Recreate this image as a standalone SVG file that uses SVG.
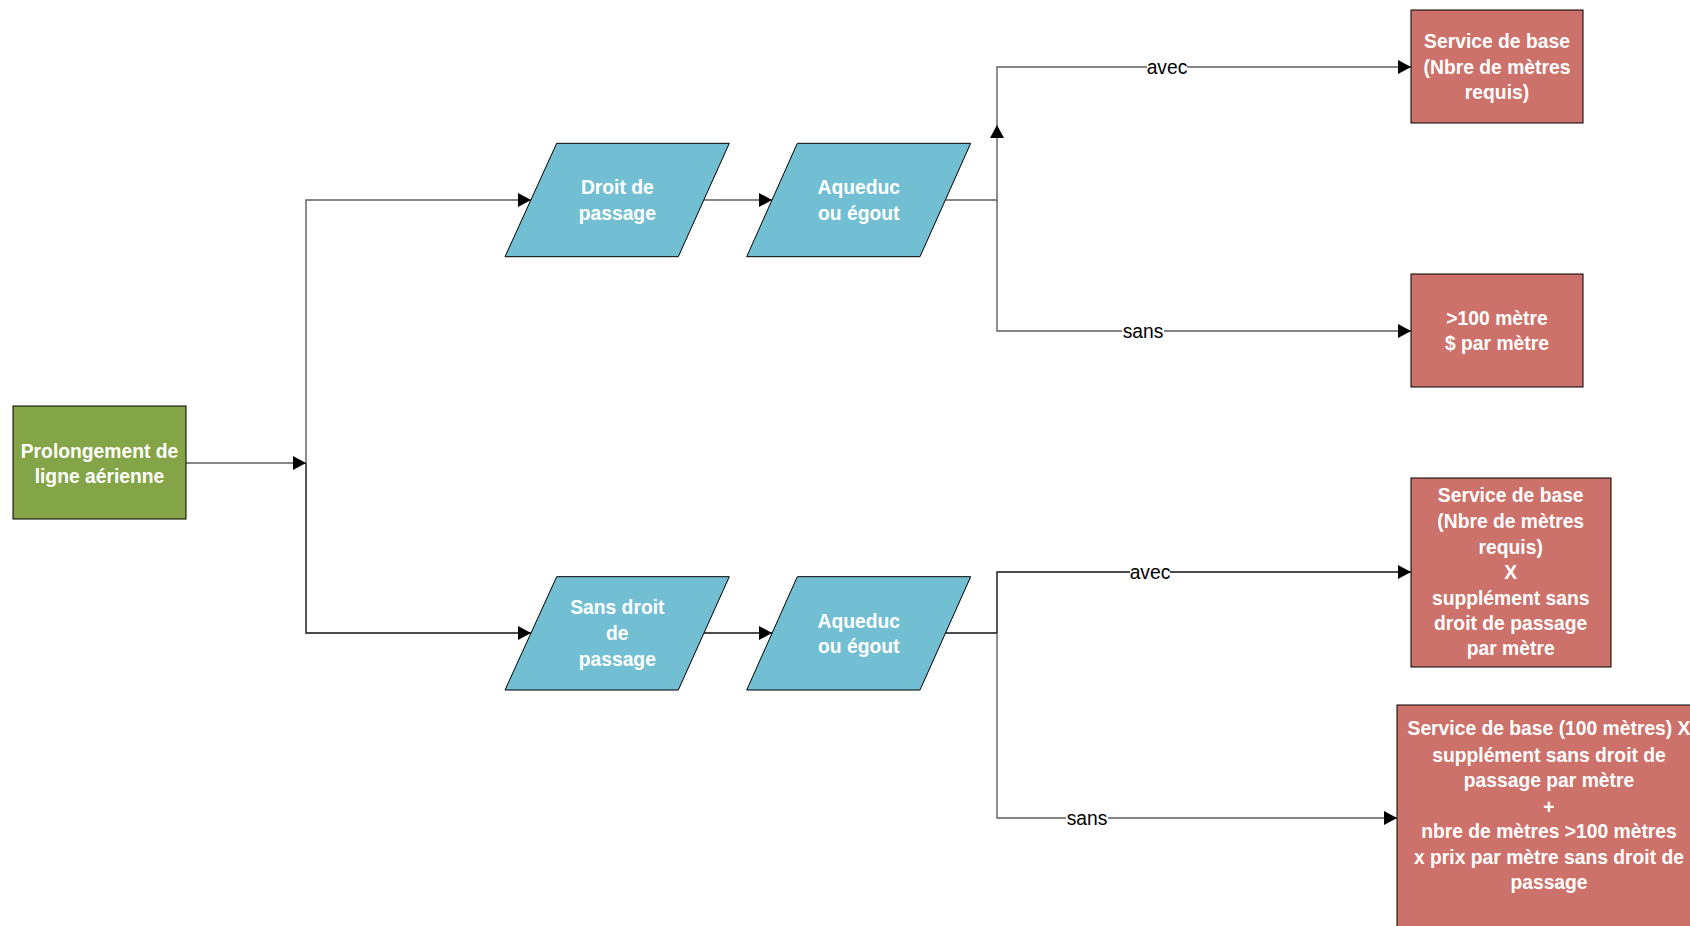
<svg xmlns="http://www.w3.org/2000/svg" width="1690" height="926" viewBox="0 0 1690 926">
<style>
.t{font-family:"Liberation Sans",Arial,sans-serif;font-size:19.3px;font-weight:bold;fill:#ffffff;text-anchor:middle}
.l{font-family:"Liberation Sans",Arial,sans-serif;font-size:19.3px;fill:#000000;text-anchor:middle}
.g{fill:#84a547;stroke:#000;stroke-width:1}
.b{fill:#72bfd3;stroke:#000;stroke-width:1}
.r{fill:#cd726b;stroke:#000;stroke-width:1}
.c{fill:none;stroke:#5e5e5e;stroke-width:1.4}
.k{fill:none;stroke:#111;stroke-width:1.4}
.lb{fill:#fff}
</style>
<defs>
<marker id="a" viewBox="0 0 13 14" refX="13" refY="7" markerWidth="13" markerHeight="14" markerUnits="userSpaceOnUse" orient="auto">
<path d="M0,0 L13,7 L0,14 Z" fill="#000"/>
</marker>
</defs>
<rect width="1690" height="926" fill="#fff"/>
<g id="connectors">
<path class="c" d="M186,463 H306" marker-end="url(#a)"/>
<path class="c" d="M306,463 V200 H531" marker-end="url(#a)"/>
<path class="k" d="M306,463 V633 H531" marker-end="url(#a)"/>
<path class="c" d="M704,200 H772" marker-end="url(#a)"/>
<path class="k" d="M704,633 H772" marker-end="url(#a)"/>
<path class="c" d="M945,200 H997 V125" marker-end="url(#a)"/>
<path class="c" d="M997,126 V67 H1411" marker-end="url(#a)"/>
<path class="c" d="M997,200 V331 H1411" marker-end="url(#a)"/>
<path class="k" d="M945,633 H997"/>
<path class="k" d="M997,633 V572 H1411" marker-end="url(#a)"/>
<path class="c" d="M997,633 V818 H1397" marker-end="url(#a)"/>
<rect class="lb" x="1147" y="56" width="40" height="22"/>
<text class="l" x="1167" y="73.5">avec</text>
<rect class="lb" x="1122" y="320" width="42" height="22"/>
<text class="l" x="1143" y="338">sans</text>
<rect class="lb" x="1130" y="561" width="40" height="22"/>
<text class="l" x="1150" y="579">avec</text>
<rect class="lb" x="1066" y="807" width="42" height="22"/>
<text class="l" x="1087" y="825">sans</text>
</g>
<g id="n-prolongement">
<rect class="g" x="13" y="406" width="173" height="113"/>
<text class="t" x="99.5" y="458">Prolongement de</text>
<text class="t" x="99.5" y="483">ligne aérienne</text>
</g>
<g id="n-droit">
<polygon class="b" points="556.7,143.3 729.3,143.3 678.3,256.7 505,256.7"/>
<text class="t" x="617.3" y="194.3">Droit de</text>
<text class="t" x="617.3" y="219.7">passage</text>
</g>
<g id="n-aqueduc1">
<polygon class="b" points="797.3,143.3 970.7,143.3 920,256.7 746.7,256.7"/>
<text class="t" x="858.7" y="194.3">Aqueduc</text>
<text class="t" x="858.7" y="219.7">ou égout</text>
</g>
<g id="n-sansdroit">
<polygon class="b" points="556.7,576.7 729.3,576.7 678.3,690 505,690"/>
<text class="t" x="617.3" y="614">Sans droit</text>
<text class="t" x="617.3" y="640">de</text>
<text class="t" x="617.3" y="666">passage</text>
</g>
<g id="n-aqueduc2">
<polygon class="b" points="797.3,576.7 970.7,576.7 920,690 746.7,690"/>
<text class="t" x="858.7" y="627.7">Aqueduc</text>
<text class="t" x="858.7" y="653">ou égout</text>
</g>
<g id="n-base1">
<rect class="r" x="1411" y="10" width="172" height="113"/>
<text class="t" x="1497" y="48">Service de base</text>
<text class="t" x="1497" y="73.7">(Nbre de mètres</text>
<text class="t" x="1497" y="99.3">requis)</text>
</g>
<g id="n-100">
<rect class="r" x="1411" y="274" width="172" height="113"/>
<text class="t" x="1497" y="325.3">&gt;100 mètre</text>
<text class="t" x="1497" y="350.3">$ par mètre</text>
</g>
<g id="n-base2">
<rect class="r" x="1411" y="478" width="200" height="189"/>
<text class="t" x="1510.7" y="502">Service de base</text>
<text class="t" x="1510.7" y="528">(Nbre de mètres</text>
<text class="t" x="1510.7" y="553.7">requis)</text>
<text class="t" x="1510.7" y="579.3">X</text>
<text class="t" x="1510.7" y="604.7">supplément sans</text>
<text class="t" x="1510.7" y="630.3">droit de passage</text>
<text class="t" x="1510.7" y="655.3">par mètre</text>
</g>
<g id="n-base3">
<rect class="r" x="1397" y="705" width="304" height="260"/>
<text class="t" x="1549" y="735">Service de base (100 mètres) X</text>
<text class="t" x="1549" y="762">supplément sans droit de</text>
<text class="t" x="1549" y="787">passage par mètre</text>
<text class="t" x="1549" y="814">+</text>
<text class="t" x="1549" y="838">nbre de mètres &gt;100 mètres</text>
<text class="t" x="1549" y="864">x prix par mètre sans droit de</text>
<text class="t" x="1549" y="889">passage</text>
</g>
</svg>
